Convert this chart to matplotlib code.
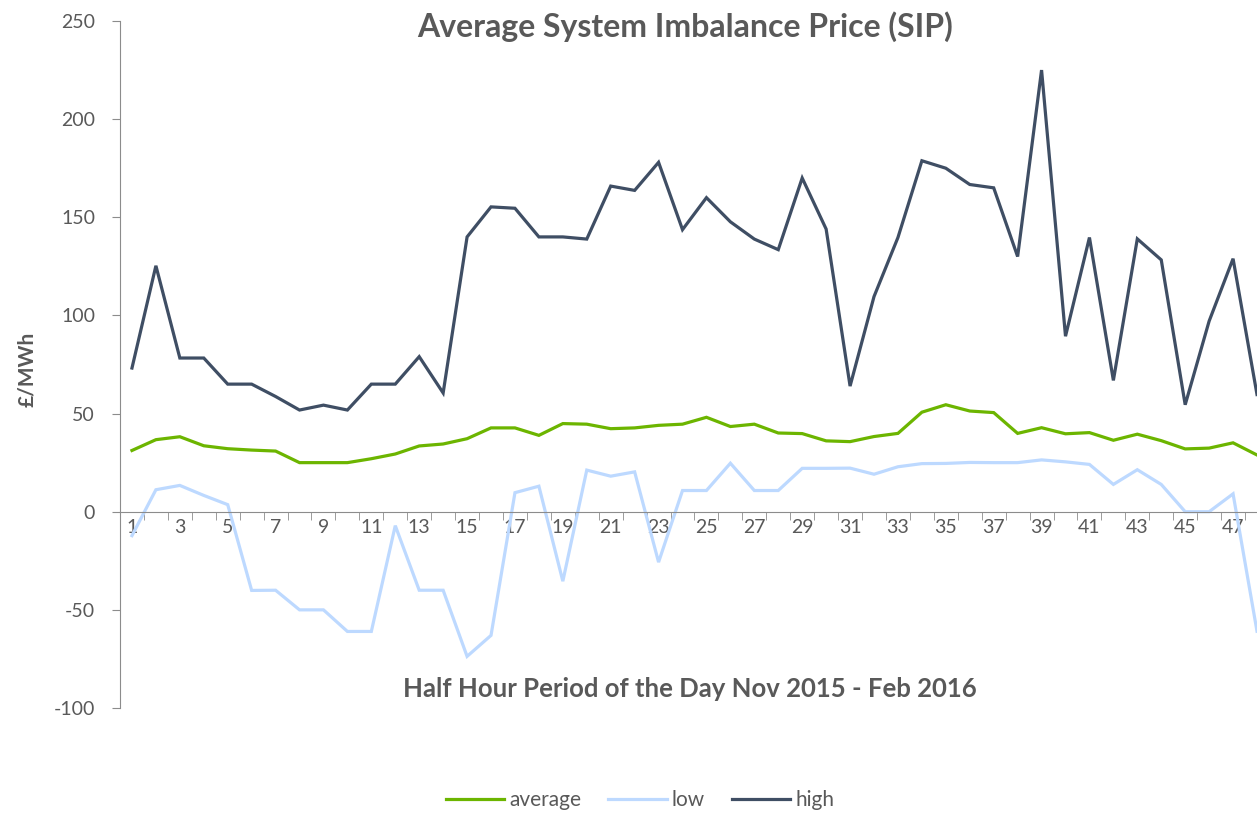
import matplotlib.pyplot as plt
import numpy as np

plt.rcParams['font.family'] = ['Lato', 'DejaVu Sans']
plt.rcParams['axes.unicode_minus'] = False

periods = np.arange(1, 49)

average = [31.2, 36.7, 38.2, 33.6, 32.1, 31.4, 30.9, 25.0, 25.0, 25.0,
           27.0, 29.4, 33.5, 34.5, 37.2, 42.7, 42.7, 38.9, 44.9, 44.6,
           42.3, 42.7, 44.0, 44.6, 48.1, 43.4, 44.6, 40.1, 39.8, 36.1,
           35.7, 38.3, 39.9, 50.7, 54.5, 51.3, 50.5, 39.9, 42.8, 39.7,
           40.3, 36.4, 39.5, 36.2, 32.0, 32.4, 35.1, 28.9]

low = [-12.2, 11.2, 13.4, 8.3, 3.6, -40.1, -40.0, -50.0, -50.0, -61.0,
       -61.0, -7.1, -40.0, -40.0, -73.7, -63.0, 9.7, 13.0, -35.4, 21.2,
       18.1, 20.3, -25.7, 10.8, 10.8, 24.7, 10.8, 10.8, 22.1, 22.1,
       22.2, 19.1, 22.9, 24.5, 24.6, 25.1, 25.0, 25.0, 26.4, 25.4,
       24.1, 13.9, 21.4, 13.9, 0.0, 0.0, 9.1, -60.9]

high = [73.2, 125.3, 78.3, 78.3, 65.0, 65.0, 58.7, 51.8, 54.3, 51.8,
        65.0, 65.0, 79.0, 60.5, 140.0, 155.3, 154.6, 140.0, 140.0, 138.9,
        165.9, 163.7, 178.0, 143.7, 160.0, 147.7, 138.9, 133.5, 170.0, 144.0,
        64.0, 109.6, 139.7, 178.8, 175.0, 166.7, 165.0, 130.0, 225.0, 89.4,
        139.7, 66.9, 139.0, 128.3, 54.5, 97.1, 128.9, 59.7]

green = '#6cb500'
light = '#bdd9ff'
dark = '#3f4e64'
grey = '#595959'

fig = plt.figure(figsize=(12.57, 8.13), dpi=100)
ax = fig.add_axes([120/1257, 1-708/813, 1-120/1257, (708-21)/813])

ax.plot(periods, average, color=green, lw=2.3, label='average', solid_joinstyle='miter')
ax.plot(periods, low, color=light, lw=2.3, label='low', solid_joinstyle='miter')
ax.plot(periods, high, color=dark, lw=2.3, label='high', solid_joinstyle='miter')

ax.set_xlim(0.5, 48.0)
ax.set_ylim(-100, 250)
ax.set_yticks(np.arange(-100, 251, 50))

ax.spines['top'].set_visible(False)
ax.spines['right'].set_visible(False)
ax.spines['bottom'].set_position(('data', 0))
ax.spines['left'].set_color('#8c8c8c')
ax.spines['bottom'].set_color('#8c8c8c')

ax.set_xticks(np.arange(1, 48, 2))
ax.set_xticks(np.arange(1.5, 48, 1), minor=True)
ax.tick_params(axis='x', which='major', length=0, pad=5, labelsize=14, labelcolor=grey)
ax.tick_params(axis='x', which='minor', length=6, direction='out', color='#8c8c8c')
ax.tick_params(axis='y', length=6, color='#8c8c8c', labelsize=14, labelcolor=grey, pad=12)

fig.text(0.545, 1-27/813, 'Average System Imbalance Price (SIP)', ha='center', va='center',
         fontsize=23, fontweight='bold', color=grey)
fig.text(27/1257, 1-369/813, '£/MWh', rotation=90, ha='center', va='center',
         fontsize=15, fontweight='bold', color=grey)
fig.text(690/1257, 1-689/813, 'Half Hour Period of the Day Nov 2015 - Feb 2016', ha='center', va='center',
         fontsize=18.5, fontweight='bold', color=grey)

leg = fig.legend(loc='center', bbox_to_anchor=(640/1257, 1-800/813), ncol=3, frameon=False,
                 fontsize=15, handlelength=2.8, handletextpad=0.25, columnspacing=1.3)
for t in leg.get_texts():
    t.set_color(grey)

fig.savefig('out.png', dpi=100)
